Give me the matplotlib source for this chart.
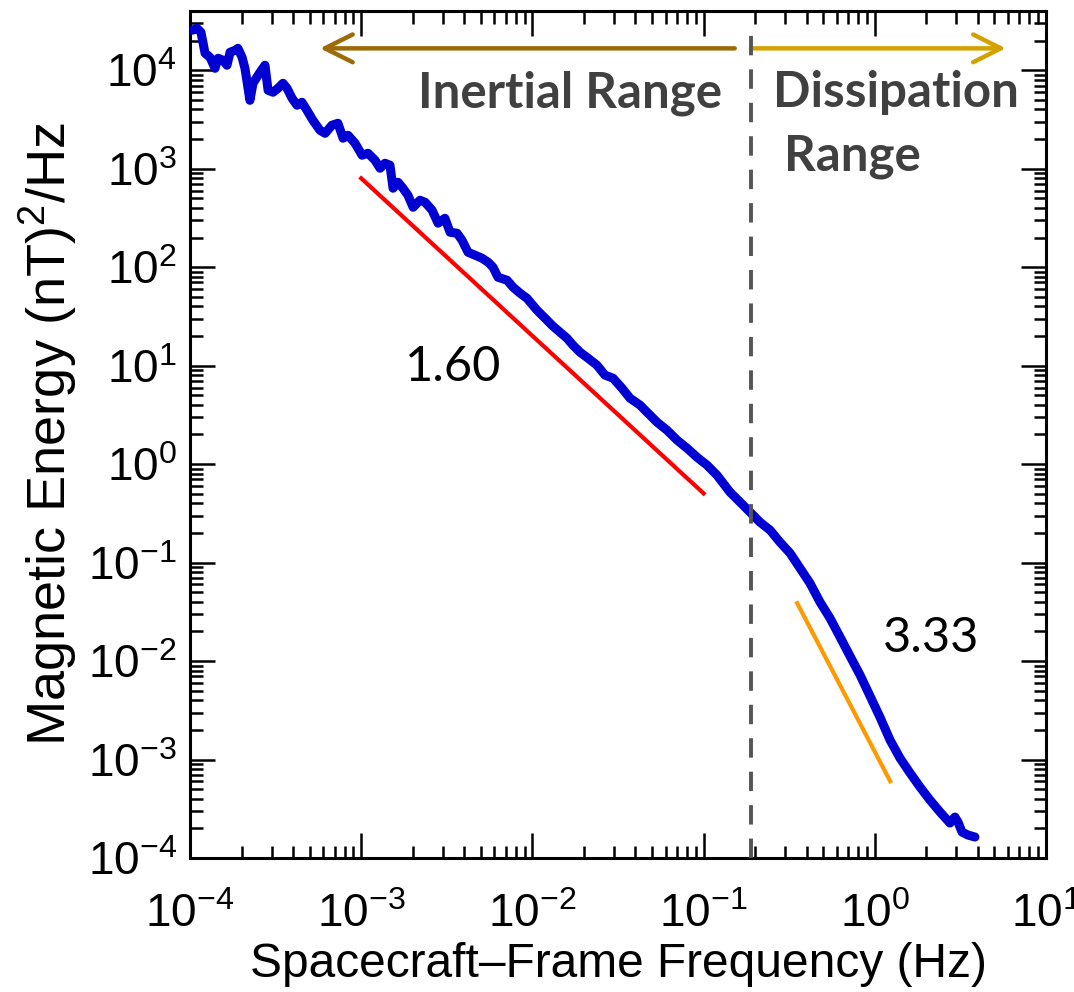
import numpy as np
import matplotlib
matplotlib.use("Agg")
import matplotlib.pyplot as plt
from matplotlib.ticker import LogLocator, NullFormatter

plt.rcParams['font.family'] = ['Liberation Sans', 'DejaVu Sans']
plt.rcParams['mathtext.fontset'] = 'custom'
plt.rcParams['mathtext.rm'] = 'Liberation Sans'
plt.rcParams['mathtext.it'] = 'Liberation Sans:italic'
plt.rcParams['mathtext.bf'] = 'Liberation Sans:bold'

# ---- data (log10 values) ----
log_freq = [-3.988, -3.959, -3.936, -3.912, -3.883, -3.854, -3.836, -3.807, -3.784, -3.766,
            -3.737, -3.720, -3.696, -3.679, -3.650, -3.632, -3.591, -3.562, -3.544, -3.515,
            -3.486, -3.457, -3.433, -3.404, -3.375, -3.346, -3.317, -3.282, -3.241, -3.211,
            -3.171, -3.136, -3.106, -3.077, -3.036, -2.995, -2.960, -2.919, -2.890, -2.861,
            -2.832, -2.814, -2.785, -2.756, -2.727, -2.697, -2.657, -2.627, -2.586, -2.551,
            -2.511, -2.481, -2.440, -2.411, -2.376, -2.335, -2.294, -2.259, -2.230, -2.201,
            -2.148, -2.113, -2.072, -2.032, -1.973, -1.926, -1.886, -1.839, -1.798, -1.763,
            -1.722, -1.675, -1.623, -1.576, -1.529, -1.477, -1.430, -1.371, -1.325, -1.272,
            -1.214, -1.155, -1.097, -1.039, -0.980, -0.922, -0.846, -0.787, -0.729, -0.671,
            -0.612, -0.554, -0.495, -0.437, -0.379, -0.320, -0.262, -0.203, -0.145, -0.086,
            -0.028, 0.030, 0.089, 0.147, 0.206, 0.264, 0.322, 0.381, 0.439, 0.468,
            0.486, 0.509, 0.544, 0.585]
log_power = [4.406, 4.426, 4.386, 4.173, 4.132, 4.020, 4.122, 4.102, 4.051, 4.183,
             4.203, 4.223, 4.132, 4.020, 3.695, 3.868, 3.980, 4.051, 3.797, 3.777,
             3.817, 3.868, 3.817, 3.716, 3.645, 3.675, 3.594, 3.492, 3.391, 3.360,
             3.442, 3.462, 3.310, 3.340, 3.259, 3.137, 3.157, 3.086, 3.005, 3.056,
             3.036, 2.802, 2.863, 2.802, 2.731, 2.609, 2.680, 2.660, 2.579, 2.447,
             2.497, 2.355, 2.345, 2.274, 2.152, 2.122, 2.091, 2.051, 2.000, 1.898,
             1.868, 1.797, 1.736, 1.685, 1.563, 1.482, 1.411, 1.340, 1.279, 1.208,
             1.137, 1.076, 1.005, 0.904, 0.873, 0.772, 0.670, 0.599, 0.518, 0.426,
             0.345, 0.244, 0.162, 0.071, -0.010, -0.112, -0.284, -0.386, -0.487, -0.589,
             -0.670, -0.792, -0.904, -1.056, -1.208, -1.401, -1.563, -1.756, -1.949, -2.142,
             -2.355, -2.569, -2.802, -2.985, -3.137, -3.279, -3.411, -3.533, -3.645, -3.584,
             -3.635, -3.736, -3.767, -3.787]

# power-law fits
inertial_slope = 1.60
inertial_frange = [1.0e-3, 1.0e-1]
inertial_p0 = 800.0          # value at the first frequency
dissip_slope = 3.33
dissip_frange = [0.352, 1.23]
dissip_p0 = 0.0388           # value at the first frequency

break_freq = 0.19

freq = 10 ** np.array(log_freq)
power = 10 ** np.array(log_power)

fi = np.array(inertial_frange)
pi = inertial_p0 * (fi / fi[0]) ** (-inertial_slope)
fd = np.array(dissip_frange)
pd_ = dissip_p0 * (fd / fd[0]) ** (-dissip_slope)

fig = plt.figure(figsize=(10.74, 9.92), dpi=100)
ax = fig.add_axes([190 / 1074, 134 / 992, 856 / 1074, 847 / 992])

ax.plot(freq, power, color='#0000d2', lw=6.5, solid_joinstyle='round', solid_capstyle='round', zorder=3)
ax.plot(fi, pi, color='#ff0000', lw=3.0, zorder=2)
ax.plot(fd, pd_, color='#ff9900', lw=3.0, zorder=2)

ax.set_xscale('log')
ax.set_yscale('log')
ax.set_xlim(1e-4, 1e1)
ax.set_ylim(1e-4, 4e4)

ax.axvline(break_freq, ymin=0.0, ymax=0.975, color='#555555', lw=2.8,
           linestyle=(0, (5.0, 3.6)), zorder=4)

for axis in (ax.xaxis, ax.yaxis):
    axis.set_major_locator(LogLocator(base=10, numticks=100))
    axis.set_minor_locator(LogLocator(base=10, subs=np.arange(2, 10), numticks=100))
    axis.set_minor_formatter(NullFormatter())

ax.tick_params(which='both', direction='in', top=True, right=True, width=1.8, colors='black')
ax.tick_params(which='major', length=18, labelsize=33)
ax.tick_params(which='minor', length=9)
ax.tick_params(axis='x', which='major', pad=25)
ax.tick_params(axis='y', which='major', pad=9.5)
for s in ax.spines.values():
    s.set_linewidth(2.2)

ax.set_xlabel('Spacecraft\u2013Frame Frequency (Hz)', fontsize=34.5, labelpad=4)
ax.set_ylabel('Magnetic Energy (nT)$^{2}$/Hz', fontsize=39, labelpad=6)

# arrows
arrow_y = 1.67e4
ax.annotate('', xy=(5.74e-4, arrow_y), xytext=(0.152, arrow_y),
            arrowprops=dict(arrowstyle='->,head_length=1.0,head_width=0.5', color='#9c6a06',
                            lw=3.2, mutation_scale=20, shrinkA=0, shrinkB=0))
ax.annotate('', xy=(5.83, arrow_y), xytext=(0.189, arrow_y),
            arrowprops=dict(arrowstyle='->,head_length=1.0,head_width=0.5', color='#d4a200',
                            lw=3.2, mutation_scale=20, shrinkA=0, shrinkB=0))

label_kw = dict(family=['Lato', 'DejaVu Sans'], fontweight='bold', color='#404040',
                fontsize=35.5, ha='left', va='baseline')
ax.text(10 ** -2.668, 10 ** 3.624, 'Inertial Range', **label_kw)
ax.text(10 ** -0.595, 10 ** 3.624, 'Dissipation', **label_kw)
ax.text(10 ** -0.530, 10 ** 2.985, 'Range', **label_kw)

num_kw = dict(family=['Lato', 'DejaVu Sans'], color='black', fontsize=35, ha='left', va='baseline')
ax.text(10 ** -2.744, 10 ** 0.843, '%.2f' % inertial_slope, **num_kw)
ax.text(10 ** 0.048, 10 ** -1.909, '%.2f' % dissip_slope, **num_kw)

fig.savefig('out.png', dpi=100)
